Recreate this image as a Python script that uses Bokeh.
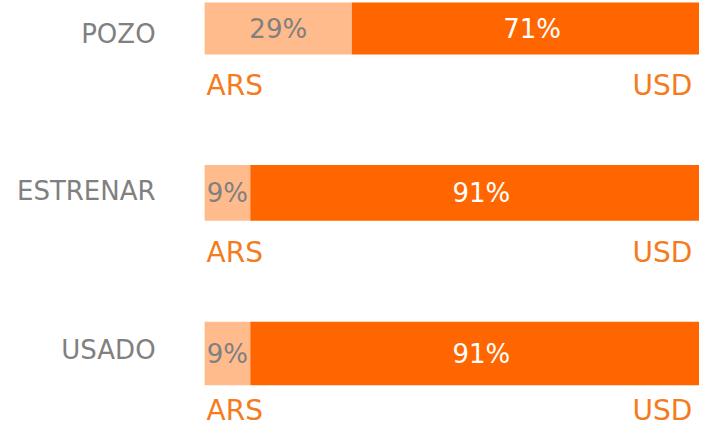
from bokeh.plotting import figure
from bokeh.models import Range1d, ColumnDataSource
from bokeh.core.properties import value
from bokeh.embed import file_html
from bokeh.resources import INLINE

# ---- data ----
categories = ["POZO", "ESTRENAR", "USADO"]
ars_pct = [29, 9, 9]
usd_pct = [71, 91, 91]
currency_left = "ARS"
currency_right = "USD"

# ---- layout (reference pixel coordinates) ----
bar_center = [36.5, 204.5, 368.5]
bar_height = [53, 57, 65]
label_y = [42.5, 202.5, 364.5]
pct_y = [37, 204.5, 369.5]
cur_y = [95, 265.5, 427]

FONT = value("DejaVu Sans")
DARK = "#FF6600"
LIGHT = "#FFBB8C"
GRAY = "#808080"
CUR = "#F47B20"

SX, SY = 0.986, 0.979   # slight shrink so everything fits the frame
Y0 = 7.96
px_per_unit = 5.15      # reference px per percent
x0_px = 207             # reference px of 0 %
W, H = 699, 429
p = figure(width=W, height=H, output_backend="svg", toolbar_location=None,
           x_range=Range1d(-x0_px / px_per_unit, (W / SX - x0_px) / px_per_unit),
           y_range=Range1d(Y0 + H / SY, Y0), min_border=0)
p.axis.visible = False
p.grid.visible = False
p.outline_line_color = None
p.background_fill_color = "white"

ars_left = [0] * len(categories)
usd_left = ars_pct
usd_right = [a + u for a, u in zip(ars_pct, usd_pct)]
src = ColumnDataSource(dict(cat=categories, y=bar_center, h=bar_height,
                            a0=ars_left, a1=ars_pct, u0=usd_left, u1=usd_right,
                            ly=label_y, py=pct_y, cy=cur_y,
                            amid=[(a + b) / 2 for a, b in zip(ars_left, ars_pct)],
                            umid=[(a + b) / 2 for a, b in zip(usd_left, usd_right)],
                            atxt=[f"{v}%" for v in ars_pct],
                            utxt=[f"{v}%" for v in usd_pct],
                            zero=[0] * 3, hundred=[100] * 3,
                            cl=[currency_left] * 3, cr=[currency_right] * 3))

p.hbar(y="y", height="h", left="a0", right="a1", source=src, fill_color=LIGHT, line_color=None)
p.hbar(y="y", height="h", left="u0", right="u1", source=src, fill_color=DARK, line_color=None)

p.text(x="amid", y="py", text="atxt", source=src, text_align="center", text_baseline="middle",
       text_font=FONT, text_font_size="26px", text_color=GRAY)
p.text(x="umid", y="py", text="utxt", source=src, text_align="center", text_baseline="middle",
       text_font=FONT, text_font_size="26px", text_color="white")
p.text(x="zero", y="ly", text="cat", source=src, text_align="right", text_baseline="middle",
       x_offset=-49, text_font=FONT, text_font_size="26px", text_color=GRAY)
p.text(x="zero", y="cy", text="cl", source=src, text_align="left", text_baseline="middle",
       x_offset=2, text_font=FONT, text_font_size="28px", text_color=CUR)
p.text(x="hundred", y="cy", text="cr", source=src, text_align="right", text_baseline="middle",
       x_offset=-20, text_font=FONT, text_font_size="28px", text_color=CUR)

open("out.html", "w").write(file_html(p, INLINE))
